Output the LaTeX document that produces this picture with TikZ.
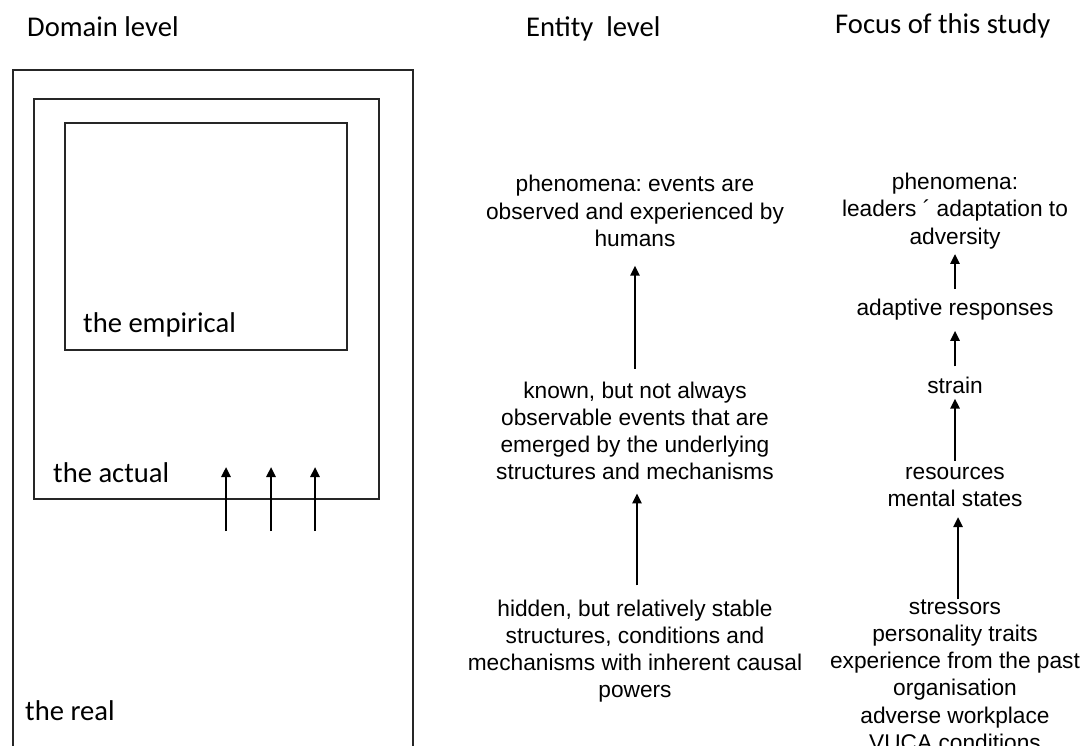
\documentclass[tikz,border=0pt]{standalone}
\usepackage{fontspec}
\setmainfont{Liberation Sans}
\newfontfamily\calib{Carlito}
\usetikzlibrary{arrows.meta}
\frenchspacing
\begin{document}
\begin{tikzpicture}[x=1pt,y=-1pt,
  head/.style={font=\calib\fontsize{28.6}{34}\selectfont, anchor=base west, inner sep=0pt},
  lvl/.style={font=\fontsize{22.7}{27.2}\selectfont, align=center, inner sep=0pt},
  box/.style={draw=black!85, line width=1.2pt},
  arr/.style={line width=2.4pt, -{Triangle[length=10pt,width=9pt]}}]
\useasboundingbox (0,0) rectangle (1081,746);
\clip (0,0) rectangle (1081,746);
\fill[white] (0,0) rectangle (1081,746);

% column headings
\node[head] (hdom) at (27,37) {Domain level};
\node[head] (hent) at (526,37) {Entity\ \ level};
\node[head] (hfoc) at (835,34) {Focus of this study};

% nested domains
\draw[box] (13,70) rectangle (413,770);
\draw[box] (34,99) rectangle (379,499);
\draw[box] (65,123) rectangle (347,350);
\node[head] (lemp) at (83,332) {the empirical};
\node[head] (lact) at (53,482) {the actual};
\node[head] (lreal) at (25,720) {the real};

% mechanisms generating actual events
\foreach \i/\x in {1/226,2/271,3/315}{
  \coordinate (g\i) at (\x,531);
  \coordinate (h\i) at (\x,467);
  \draw[arr] (g\i) -- (h\i);
}

% entity level
\node[lvl] (ent1) at (635,211) {phenomena: events are\\observed and experienced by\\humans};
\node[lvl] (ent2) at (635,431) {known, but not always\\observable events that are\\emerged by the underlying\\structures and mechanisms};
\node[lvl] (ent3) at (635,651) {hidden, but relatively stable\\structures, conditions and\\mechanisms with inherent causal\\powers};
\draw[arr, shorten <=13pt, shorten >=19pt] (ent2.north) -- (ent1.south);
\draw[arr, shorten <=14pt, shorten >=13pt] ([xshift=2pt]ent3.north) -- ([xshift=2pt]ent2.south);

% focus of this study
\node[lvl] (f1) at (955,211) {phenomena:\\leaders \textasciiacute\ adaptation to\\adversity};
\node[lvl] (f2) at (955,310) {adaptive responses};
\node[lvl] (f3) at (955,385) {strain};
\node[lvl] (f4) at (955,487) {resources\\mental states};
\node[lvl] (f5) at (955,675) {stressors\\personality traits\\experience from the past\\organisation\\adverse workplace\\VUCA conditions};
\draw[arr, shorten <=10pt, shorten >=5pt] (f2.north) -- (f1.south);
\draw[arr, shorten <=10pt, shorten >=10pt] (f3.north) -- (f2.south);
\draw[arr, shorten <=6pt, shorten >=5pt] (f4.north) -- (f3.south);
\draw[arr, shorten <=0pt, shorten >=10pt] ([xshift=3pt]f5.north) -- ([xshift=3pt]f4.south);
\end{tikzpicture}
\end{document}
